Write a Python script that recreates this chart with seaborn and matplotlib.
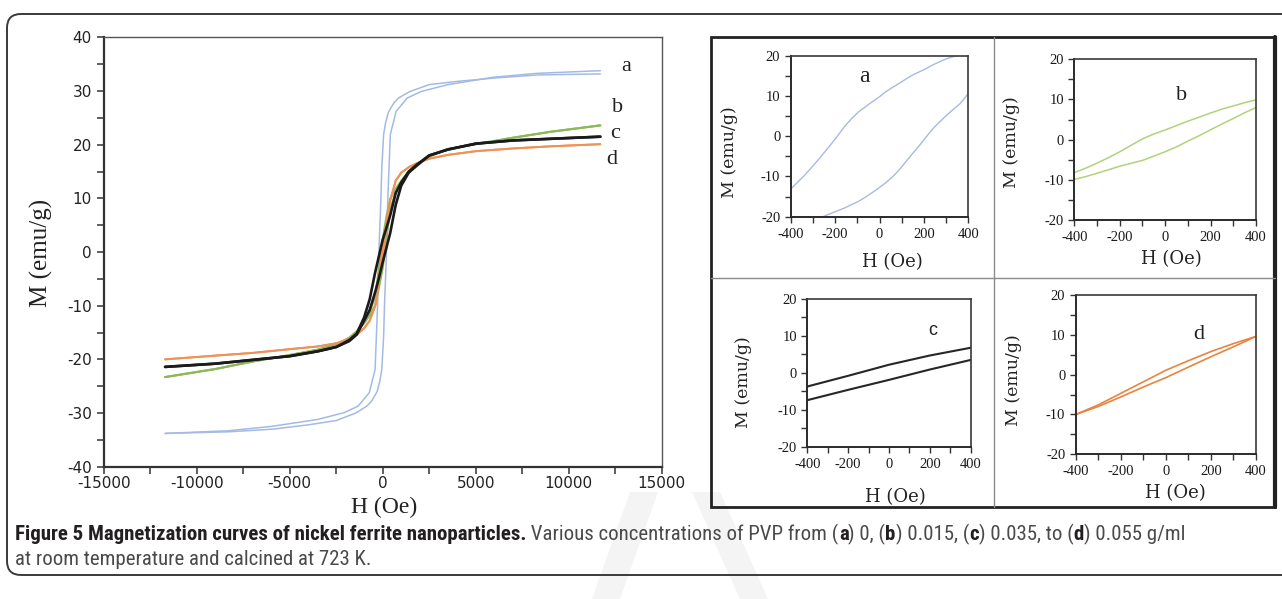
import matplotlib
matplotlib.use("Agg")
import matplotlib.pyplot as plt
import matplotlib.ticker as mticker
import matplotlib.patches as mpatches
import matplotlib.transforms as mtransforms
from matplotlib.lines import Line2D
from matplotlib import font_manager
import seaborn as sns

W, HGT, DPI = 1282, 599, 100

# ---- main panel: M-H loops, field in Oe, magnetization in emu/g ----
# a (blue): descending and ascending branches
A_DESC_H = [11700, 8300, 5900, 4000, 2500, 1450, 850, 600, 300, 150, 50, -50, -100, -170,
            -230, -270, -340, -410, -720, -1320, -2050, -3500, -6000, -8300, -11700]
A_DESC_M = [33.2, 33.0, 32.4, 31.8, 31.2, 29.9, 28.7, 27.8, 26.0, 24.0, 21.9, 15.7, 9.5, 3.3,
            -3.0, -9.5, -15.7, -21.9, -26.2, -28.7, -29.9, -31.2, -32.5, -33.3, -33.8]
A_ASC_H = [-11700, -8300, -5900, -4000, -2500, -1450, -850, -600, -300, -150, -50, 50, 100, 170,
           230, 270, 340, 410, 720, 1320, 2050, 3500, 6000, 8300, 11700]
A_ASC_M = [-33.8, -33.5, -33.0, -32.2, -31.4, -30.0, -28.7, -27.8, -26.0, -24.0, -21.9, -15.7, -9.5, -3.3,
           3.0, 9.5, 15.7, 21.9, 26.2, 28.7, 29.9, 31.2, 32.6, 33.3, 33.8]

# b, c, d share one field grid
H_DOWN = [11700, 9000, 7000, 5000, 3500, 2500, 1800, 1400, 1000, 700, 400, 200, 0,
          -200, -400, -700, -1000, -1400, -1800, -2500, -3500, -5000, -7000, -9000, -11700]
H_UP = [-11700, -9000, -7000, -5000, -3500, -2500, -1800, -1400, -1000, -700, -400, -200, 0,
        200, 400, 700, 1000, 1400, 1800, 2500, 3500, 5000, 7000, 9000, 11700]

B_DESC_M = [23.6, 22.4, 21.3, 20.1, 19.2, 17.8, 16.3, 15.0, 13.3, 11.8, 9.9, 6.6, 2.4,
            -3.0, -8.2, -11.2, -13.0, -14.8, -16.0, -17.2, -18.2, -19.2, -20.4, -21.8, -23.3]
B_ASC_M = [-23.3, -21.8, -20.4, -19.2, -18.2, -17.2, -16.0, -14.8, -13.3, -11.8, -9.9, -6.6, -3.0,
           2.4, 8.0, 11.2, 13.0, 15.0, 16.3, 17.8, 19.2, 20.1, 21.3, 22.4, 23.6]

C_DESC_M = [21.5, 21.1, 20.8, 20.2, 19.1, 18.0, 16.2, 15.0, 13.0, 11.0, 6.8, 4.5, 2.3,
            -0.7, -3.7, -8.8, -12.2, -15.2, -16.4, -17.7, -18.5, -19.4, -20.1, -20.8, -21.4]
C_ASC_M = [-21.4, -20.8, -20.1, -19.4, -18.5, -17.7, -16.6, -15.4, -12.8, -10.8, -7.4, -4.8, -1.9,
           0.8, 3.5, 8.8, 12.4, 14.8, 16.0, 18.0, 19.1, 20.2, 20.8, 21.1, 21.5]

D_DESC_M = [20.1, 19.7, 19.3, 18.8, 18.1, 17.4, 16.5, 15.8, 14.8, 13.3, 9.6, 5.8, 1.1,
            -4.7, -10.0, -12.8, -14.2, -15.4, -16.2, -17.0, -17.6, -18.1, -18.8, -19.3, -20.0]
D_ASC_M = [-20.0, -19.3, -18.8, -18.1, -17.6, -17.0, -16.2, -15.4, -14.2, -12.8, -10.0, -5.4, -0.75,
           4.5, 9.6, 13.3, 14.8, 15.8, 16.5, 17.4, 18.1, 18.8, 19.3, 19.7, 20.1]

CURVE_LABELS = ["a", "b", "c", "d"]
LABEL_H = [13080, 12600, 12490, 12330]
LABEL_M = [34.5, 27.0, 22.0, 17.2]

# ---- insets: low-field loops (-400..400 Oe) ----
IA_DESC_H = [-400, -370, -339, -308, -278, -248, -217, -186, -156, -125, -95, -64, -34, 0,
             27, 58, 88, 119, 149, 180, 210, 240, 270, 300, 331, 345]
IA_DESC_M = [-13.1, -11.5, -9.8, -7.9, -6.0, -4.0, -1.9, 0.3, 2.5, 4.4, 6.0, 7.3, 8.5, 9.8,
             11.0, 12.1, 13.1, 14.2, 15.2, 16.0, 16.8, 17.7, 18.5, 19.2, 19.75, 20.0]
IA_ASC_H = [-255, -220, -187, -156, -126, -95, -65, -35, -4, 27, 57, 88, 118, 149, 180,
            210, 241, 272, 302, 333, 363, 400]
IA_ASC_M = [-20.0, -19.2, -18.5, -17.8, -17.0, -16.2, -15.2, -14.1, -12.9, -11.6, -10.2, -8.4, -6.4,
            -4.3, -2.3, -0.2, 1.9, 3.6, 5.2, 6.7, 8.1, 10.6]

IB_H = [-400, -350, -302, -250, -199, -150, -96, -50, 0, 50, 95, 150, 198, 250, 301, 350, 400]
IB_UP = [-8.2, -7.1, -5.9, -4.5, -3.0, -1.4, 0.3, 1.4, 2.4, 3.5, 4.5, 5.6, 6.6, 7.6, 8.4, 9.2, 9.9]
IB_LO = [-9.9, -9.2, -8.4, -7.5, -6.6, -5.9, -5.1, -4.1, -3.0, -1.8, -0.5, 1.0, 2.4, 3.9, 5.3, 6.7, 8.0]

IC_H = [-400, -200, 0, 200, 400]
IC_UP = [-3.7, -0.8, 2.2, 4.7, 6.8]
IC_LO = [-7.4, -4.6, -1.9, 0.9, 3.5]

ID_H = [-400, -300, -200, -100, 0, 100, 200, 300, 400]
ID_UP = [-10.0, -7.6, -4.7, -1.8, 1.1, 3.5, 5.8, 7.8, 9.6]
ID_LO = [-10.0, -8.0, -5.6, -3.1, -0.75, 1.9, 4.5, 7.0, 9.6]

INSET_LETTER_H = [-70, 70, 212, 144]
INSET_LETTER_M = [14.8, 10.9, 11.6, 10.0]

BLUE, GREEN, BLACK, ORANGE = "#a3bbe3", "#8cb85a", "#1b1b1b", "#ef9258"
IN_BLUE, IN_GREEN, IN_BLACK, IN_ORANGE = "#aab8e4", "#b2d27a", "#262626", "#e9843f"

sns.set_theme(style="ticks")
plt.rcParams["font.family"] = ["DejaVu Sans"]
plt.rcParams["axes.unicode_minus"] = False

fig = plt.figure(figsize=(W / DPI, HGT / DPI), dpi=DPI)
fig.patch.set_facecolor("white")
PIX = mtransforms.IdentityTransform()


def px_rect(left, top, right, bottom):
    return [left / W, 1 - bottom / HGT, (right - left) / W, (bottom - top) / HGT]


def style_spines(ax, lw_lb, lw_tr, col_lb="#333333", col_tr="#555555"):
    for side in ["left", "bottom"]:
        ax.spines[side].set(linewidth=lw_lb, color=col_lb, visible=True)
    for side in ["top", "right"]:
        ax.spines[side].set(linewidth=lw_tr, color=col_tr, visible=True)


# %% main panel
ax = fig.add_axes(px_rect(103.7, 37.4, 661.7, 466.7))
main_series = [
    (A_DESC_H, A_DESC_M, BLUE, 1.1), (A_ASC_H, A_ASC_M, BLUE, 1.1),
    (H_DOWN, B_DESC_M, GREEN, 1.5), (H_UP, B_ASC_M, GREEN, 1.5),
    (H_DOWN, D_DESC_M, ORANGE, 1.4), (H_UP, D_ASC_M, ORANGE, 1.4),
    (H_DOWN, C_DESC_M, BLACK, 1.9), (H_UP, C_ASC_M, BLACK, 1.9),
]
for hs, ms, col, lw in main_series:
    sns.lineplot(x=hs, y=ms, sort=False, estimator=None, color=col, lw=lw, ax=ax, legend=False)

ax.set_xlim(-15000, 15000)
ax.set_ylim(-40, 40)
ax.xaxis.set_major_locator(mticker.MultipleLocator(5000))
ax.xaxis.set_minor_locator(mticker.MultipleLocator(2500))
ax.yaxis.set_major_locator(mticker.MultipleLocator(10))
ax.yaxis.set_minor_locator(mticker.MultipleLocator(5))
ax.tick_params(which="both", direction="out", length=5, width=1.1, color="#333333",
               top=False, right=False)
ax.tick_params(which="major", labelsize=11, labelcolor="#222222", labelfontfamily="DejaVu Sans")
ax.tick_params(axis="x", which="major", pad=1.5)
style_spines(ax, 1.6, 1.0)
ax.set_xlabel("H (Oe)", family="Liberation Serif", fontsize=17, color="#222222", va="center")
ax.set_ylabel("M (emu/g)", family="Liberation Serif", fontsize=18, color="#222222", va="center")
ax.xaxis.set_label_coords(0.502, -0.094)
ax.yaxis.set_label_coords(-0.111, 0.498)
for lab, hx, my in zip(CURVE_LABELS, LABEL_H, LABEL_M):
    ax.text(hx, my, lab, family="Liberation Serif", fontsize=16, color="#222222",
            ha="center", va="center")

# %% insets
insets = [
    (px_rect(790.7, 55.7, 968.3, 216.7), [(IA_DESC_H, IA_DESC_M), (IA_ASC_H, IA_ASC_M)], IN_BLUE, 1.0,
     (-0.342, 0.40), (0.573, -0.28)),
    (px_rect(1074.3, 59.3, 1256.0, 220.0), [(IB_H, IB_UP), (IB_H, IB_LO)], IN_GREEN, 1.1,
     (-0.345, 0.482), (0.536, -0.241)),
    (px_rect(807.3, 299.0, 970.7, 446.7), [(IC_H, IC_UP), (IC_H, IC_LO)], IN_BLACK, 1.5,
     (-0.392, 0.44), (0.542, -0.344)),
    (px_rect(1075.7, 295.0, 1256.0, 454.3), [(ID_H, ID_UP), (ID_H, ID_LO)], IN_ORANGE, 1.2,
     (-0.346, 0.466), (0.551, -0.245)),
]
letter_fonts = ["Liberation Serif", "Liberation Serif", "Liberation Sans", "Liberation Serif"]
letter_sizes = [17, 16, 13, 16]

for i, (rect, branches, col, lw, ylc, xlc) in enumerate(insets):
    iax = fig.add_axes(rect)
    for hs, ms in branches:
        sns.lineplot(x=hs, y=ms, sort=False, estimator=None, color=col, lw=lw, ax=iax, legend=False)
    iax.set_xlim(-400, 400)
    iax.set_ylim(-20, 20)
    iax.xaxis.set_major_locator(mticker.MultipleLocator(200))
    iax.xaxis.set_minor_locator(mticker.MultipleLocator(100))
    iax.yaxis.set_major_locator(mticker.MultipleLocator(10))
    iax.yaxis.set_minor_locator(mticker.MultipleLocator(5))
    iax.tick_params(which="both", direction="out", length=4, width=1.0, color="#333333",
                    top=False, right=False)
    iax.tick_params(which="major", labelsize=10.5, labelcolor="#1a1a1a",
                    labelfontfamily="Liberation Serif")
    iax.tick_params(axis="x", which="major", pad=4)
    style_spines(iax, 1.4, 1.2, "#2a2a2a", "#3a3a3a")
    iax.set_xlabel("H (Oe)", family="DejaVu Serif", fontsize=13, color="#222222", va="center")
    iax.set_ylabel("M (emu/g)", family="DejaVu Serif", fontsize=12.5, color="#222222", va="center")
    iax.yaxis.set_label_coords(*ylc)
    iax.xaxis.set_label_coords(*xlc)
    iax.text(INSET_LETTER_H[i], INSET_LETTER_M[i], CURVE_LABELS[i], family=letter_fonts[i],
             fontsize=letter_sizes[i], color="#222222", ha="center", va="center")

# %% frames: outer rounded border, inset box and its dividers
fig.add_artist(mpatches.FancyBboxPatch((7, HGT - 575), 1310, 575 - 14,
                                       boxstyle="round,pad=0,rounding_size=14",
                                       fill=False, ec="#3a3a3a", lw=1.4, transform=PIX))
fig.add_artist(mpatches.Rectangle((711, HGT - 507), 1275 - 711, 507 - 37, fill=False,
                                  ec="#222222", lw=2.0, transform=PIX))
fig.add_artist(Line2D([1275, 1275], [HGT - 507, HGT - 37], color="#222222", lw=3.0, transform=PIX))
fig.add_artist(Line2D([994, 994], [HGT - 507, HGT - 37], color="#8a8a8a", lw=1.0, transform=PIX))
fig.add_artist(Line2D([711, 1275], [HGT - 278, HGT - 278], color="#8a8a8a", lw=1.0, transform=PIX))

# faint publisher watermark (two light strokes), drawn beneath everything else
fig.add_artist(mpatches.Polygon([(630, HGT - 492), (658, HGT - 492), (620, HGT - 599), (592, HGT - 599)],
                                closed=True, fc="#f4f4f4", ec="none", zorder=-1, transform=PIX))
fig.add_artist(mpatches.Polygon([(692, HGT - 492), (720, HGT - 492), (768, HGT - 599), (740, HGT - 599)],
                                closed=True, fc="#f4f4f4", ec="none", zorder=-1, transform=PIX))

# %% caption, bold and regular runs placed one after another
fonts = font_manager.fontManager.ttflist
names = {f.name for f in fonts}
cap_family, cap_stretch = "DejaVu Sans", "normal"
for cand in ["Liberation Sans Narrow", "Roboto Condensed", "Open Sans Condensed"]:
    if cand in names:
        cap_family = cand
        break
else:
    if any(f.name == "DejaVu Sans" and f.stretch == "condensed" for f in fonts):
        cap_stretch = "condensed"

DARK, GREY = "#231f20", "#4a4a4a"
line1 = [
    ("Figure 5 Magnetization curves of nickel ferrite nanoparticles.", "bold", DARK),
    (" Various concentrations of PVP from (", "normal", GREY), ("a", "bold", DARK),
    (") 0, (", "normal", GREY), ("b", "bold", DARK), (") 0.015, (", "normal", GREY),
    ("c", "bold", DARK), (") 0.035, to (", "normal", GREY), ("d", "bold", DARK),
    (") 0.055 g/ml", "normal", GREY),
]
line2 = [("at room temperature and calcined at 723 K.", "normal", GREY)]

renderer = fig.canvas.get_renderer()


def place(segments, x0, y_base, size):
    x = x0
    for txt, weight, col in segments:
        t = fig.text(x, HGT - y_base, txt, transform=PIX, fontsize=size, fontweight=weight,
                     fontstretch=cap_stretch, color=col, family=cap_family, ha="left", va="baseline")
        x = t.get_window_extent(renderer).x1
    return x


# measure at a trial size, then rescale so line 1 spans the same width as the original
probe = place(line1, 15, -100, 10) - 15
for t in list(fig.texts)[-len(line1):]:
    t.remove()
cap_size = min(10 * 1250 / probe, 15.0)
place(line1, 15, 540, cap_size)
place(line2, 15, 565, cap_size)

fig.savefig("out.png", dpi=DPI, facecolor="white")
